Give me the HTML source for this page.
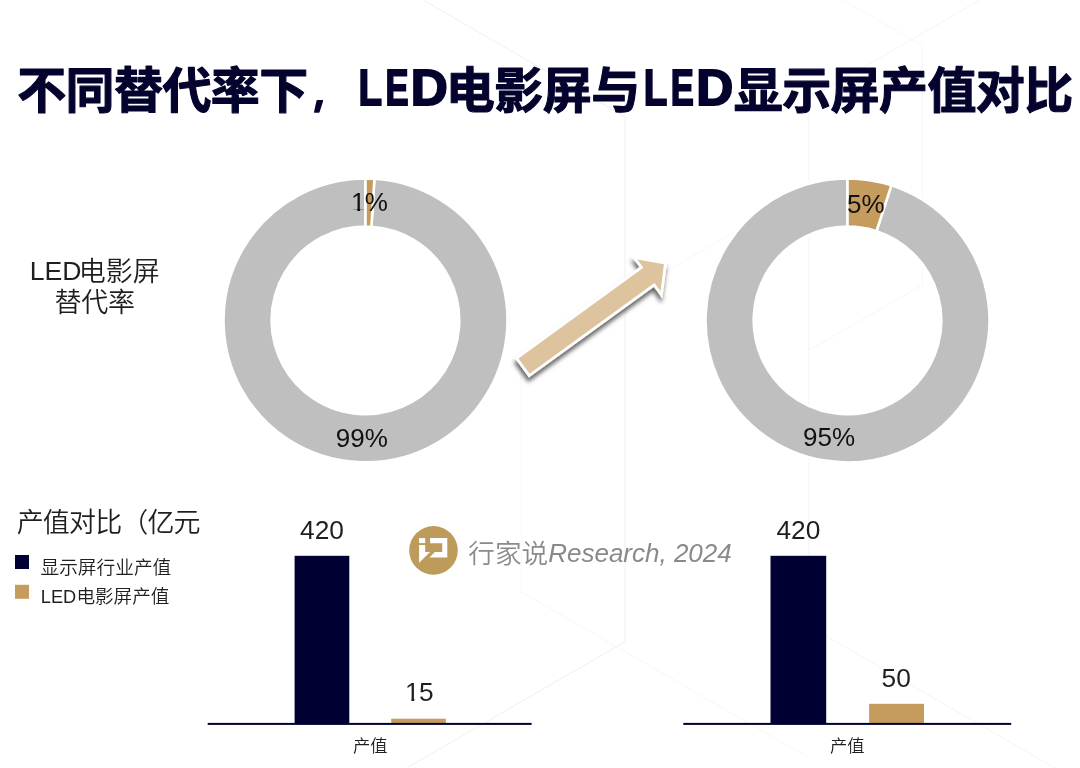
<!DOCTYPE html>
<html lang="zh-CN"><head><meta charset="utf-8"><title>LED电影屏与LED显示屏产值对比</title>
<style>
html,body{margin:0;padding:0;background:#fff;}
body{width:1080px;height:768px;overflow:hidden;position:relative;}
svg{position:absolute;left:0;top:0;display:block;}
.lat{font-family:"Liberation Sans","Noto Sans CJK SC",sans-serif;}
.cjk{font-family:"Liberation Sans","Noto Sans CJK SC",sans-serif;font-weight:300;}
.cjkr{font-family:"Liberation Sans","Noto Sans CJK SC",sans-serif;font-weight:350;}
.ttl{font-family:"Liberation Sans","Noto Sans CJK SC",sans-serif;font-weight:700;}
</style></head><body>
<svg width="1080" height="768" viewBox="0 0 1080 768">
<defs>
<filter id="sh" x="-20%" y="-20%" width="140%" height="140%">
<feDropShadow dx="-0.8" dy="4.6" stdDeviation="2.3" flood-color="#000" flood-opacity="0.6"/>
</filter>
</defs>
<rect width="1080" height="768" fill="#fff"/>

<g stroke-width="1" fill="none">
<path d="M423,0 L625,116.7 V641.7 L406.7,768" stroke="#F0F0F0"/>
<path d="M980,0 L808.8,98.8 V626 L1055,768" stroke="#F4F4F4"/>
<path d="M843,0 L922.3,45.8 V285 L808.8,350.5" stroke="#F7F7F7"/>
<path d="M625,295 L808.8,188.9" stroke="#F7F7F7"/>
<path d="M521.2,368 V591.7 L808.8,757.7" stroke="#F7F7F7"/>
</g>

<g class="ttl" fill="#03032E" stroke="#03032E" stroke-width="1.1" stroke-linejoin="round" font-size="49">
<text x="17.2" y="108.4" letter-spacing="-0.6">不同替代率下</text>
<text transform="translate(309.1,104.3) scale(0.83,1)" font-size="61" stroke="none" style="font-family:'Liberation Sans',NanumGothic,'Noto Sans CJK SC',sans-serif">，</text>
<text y="105.3" font-size="50.3" stroke-width="2" stroke-linejoin="miter"><tspan x="358.42" textLength="23.57" lengthAdjust="spacingAndGlyphs">L</tspan><tspan x="385.38" textLength="23.08" lengthAdjust="spacingAndGlyphs">E</tspan><tspan x="410.87" textLength="36.98" lengthAdjust="spacingAndGlyphs">D</tspan></text>
<text x="445.8" y="108.4" letter-spacing="-0.5">电影屏与</text>
<text y="105.3" font-size="50.3" stroke-width="2" stroke-linejoin="miter"><tspan x="643.87" textLength="23.57" lengthAdjust="spacingAndGlyphs">L</tspan><tspan x="670.83" textLength="23.08" lengthAdjust="spacingAndGlyphs">E</tspan><tspan x="696.32" textLength="36.98" lengthAdjust="spacingAndGlyphs">D</tspan></text>
<text x="733.8" y="108.4" letter-spacing="-0.6">显示屏产值对比</text>
</g>

<text y="279.9" font-size="27" class="cjkr" fill="#1F1F1F"><tspan x="29.8" font-size="26.6">LED</tspan><tspan x="78.8" y="281.3">电影屏</tspan></text>
<text x="94.6" y="312.2" font-size="27" text-anchor="middle" class="cjkr" fill="#1F1F1F" letter-spacing="-0.2">替代率</text>

<path d="M374.42,178.68 A142,142 0 1 1 365.50,178.40 L365.50,226.60 A93.8,93.8 0 1 0 371.39,226.79 Z" fill="#BFBFBF" stroke="#fff" stroke-width="2.6" stroke-linejoin="miter"/>
<path d="M365.50,178.40 A142,142 0 0 1 374.42,178.68 L371.39,226.79 A93.8,93.8 0 0 0 365.50,226.60 Z" fill="#C69C5E" stroke="#fff" stroke-width="2.6" stroke-linejoin="miter"/>
<clipPath id="c1_1"><rect x="348.41" y="185.29" width="18.46" height="23.84"/><rect x="357.25" y="209.07" width="2.90" height="4.22"/></clipPath><text x="351.01" y="211.29" font-size="26" class="lat" fill="#111" clip-path="url(#c1_1)">1</text><text x="364.87" y="211.29" font-size="26" class="lat" fill="#111">%</text>
<text x="361.8" y="447.0" font-size="26" text-anchor="middle" class="lat" fill="#111">99%</text>
<path d="M891.38,185.35 A142,142 0 1 1 847.50,178.40 L847.50,226.60 A93.8,93.8 0 1 0 876.49,231.19 Z" fill="#BFBFBF" stroke="#fff" stroke-width="2.6" stroke-linejoin="miter"/>
<path d="M847.50,178.40 A142,142 0 0 1 891.38,185.35 L876.49,231.19 A93.8,93.8 0 0 0 847.50,226.60 Z" fill="#C69C5E" stroke="#fff" stroke-width="2.6" stroke-linejoin="miter"/>
<text x="865.9" y="212.7" font-size="26" text-anchor="middle" class="lat" fill="#111">5%</text>
<text x="829.1" y="445.6" font-size="26" text-anchor="middle" class="lat" fill="#111">95%</text>
<g filter="url(#sh)"><path transform="translate(594,315.2) rotate(-36)" d="M-86.50,-9.38 L67.90,-9.38 L67.90,-19.60 L86.50,0.00 L67.90,19.60 L67.90,9.38 L-86.50,9.38Z" fill="#DEC49E" stroke="#fff" stroke-width="5.6" stroke-linejoin="miter" stroke-miterlimit="10" paint-order="stroke"/></g>

<text x="16.7" y="532.4" font-size="27" letter-spacing="-0.85" class="cjkr" fill="#1F1F1F">产值对比（亿元</text>
<rect x="15" y="555" width="14" height="14" fill="#000033"/>
<rect x="15" y="584.8" width="14" height="14" fill="#C69C5E"/>
<text x="40.5" y="573.8" font-size="18.7" class="cjkr" fill="#1F1F1F">显示屏行业产值</text>
<text x="40.8" y="603.1" font-size="18.6" class="cjkr" fill="#1F1F1F"><tspan font-size="18.2">LED</tspan><tspan dx="0.2" dy="0.3">电影屏产值</tspan></text>

<circle cx="433.5" cy="550.4" r="24.3" fill="#BD9B5A"/>
<g fill="#fff">
<rect x="419.1" y="538.1" width="6.1" height="5.0"/>
<path d="M419.1,545.0 H425.2 V552 H430.1 L419.1,562.8 Z"/>
<path d="M430.1,538.1 H447.3 V557.5 H429.5 L434.9,552 H442.2 V543.3 H430.1 Z"/>
</g>
<text y="562" font-size="26" class="cjkr" fill="#8A8A8A"><tspan x="468.3" y="563" font-size="26.6">行家说</tspan><tspan x="548.2" y="562" font-style="italic">Research, 2024</tspan></text>

<rect x="294.6" y="555.8" width="54.7" height="168.2" fill="#000033"/>
<rect x="391.2" y="718.7" width="54.6" height="5.3" fill="#C69C5E"/>
<rect x="207.7" y="722.9" width="323.9" height="2" fill="#000033"/>
<text x="322.0" y="539.2" font-size="26.3" text-anchor="middle" class="lat" fill="#1F1F1F">420</text>
<clipPath id="c1_2"><rect x="402.47" y="674.90" width="18.63" height="24.12"/><rect x="411.39" y="698.95" width="2.92" height="4.25"/></clipPath><text x="405.07" y="701.20" font-size="26.3" class="lat" fill="#1F1F1F" clip-path="url(#c1_2)">1</text><text x="419.10" y="701.20" font-size="26.3" class="lat" fill="#1F1F1F">5</text>
<text x="370.2" y="751.5" font-size="17.3" text-anchor="middle" class="cjkr" fill="#1F1F1F">产值</text>
<rect x="770.5" y="555.8" width="55.7" height="168.2" fill="#000033"/>
<rect x="869.1" y="703.8" width="54.9" height="20.2" fill="#C69C5E"/>
<rect x="683.3" y="722.9" width="327.9" height="2" fill="#000033"/>
<text x="798.4" y="539.2" font-size="26.3" text-anchor="middle" class="lat" fill="#1F1F1F">420</text>
<text x="896.2" y="687.2" font-size="26.3" text-anchor="middle" class="lat" fill="#1F1F1F">50</text>
<text x="847.3" y="751.5" font-size="17.3" text-anchor="middle" class="cjkr" fill="#1F1F1F">产值</text>
</svg>
</body></html>
